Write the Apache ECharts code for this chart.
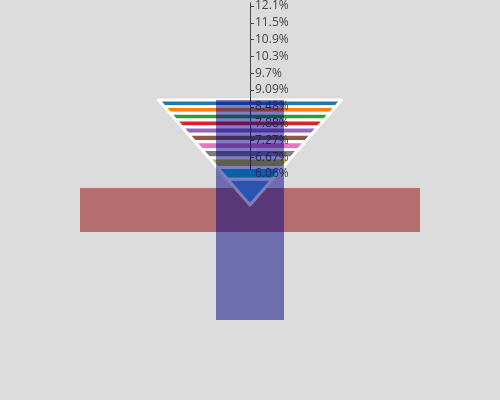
<!DOCTYPE html>
<html><head><meta charset="utf-8">
<script src="https://cdn.jsdelivr.net/npm/echarts@6/dist/echarts.min.js"></script>
<style>html,body{margin:0;padding:0;background:#dcdcdc}#c{width:500px;height:400px}</style>
</head><body><div id="c"></div>
<script>
// funnel slice values (top to bottom)
const sliceValues = [20, 19, 18, 17, 16, 15, 14, 13, 12, 11, 10];
const sliceColors = ['#1f77b4', '#ff7f0e', '#2ca02c', '#d62728', '#9467bd', '#8c564b', '#e377c2', '#7f7f7f', '#bcbd22', '#17becf', '#57a9e2'];
// percent labels shown for each slice
const percentLabels = ['12.1%', '11.5%', '10.9%', '10.3%', '9.7%', '9.09%', '8.48%', '7.88%', '7.27%', '6.67%', '6.06%'];
// overlay rectangles in plot-fraction coordinates
const shapeX0 = [0, 0.4];
const shapeX1 = [1, 0.6];
const shapeY0 = [0.4, 0];
const shapeY1 = [0.6, 1];
const shapeColors = ['rgba(139,0,0,0.5)', 'rgba(0,0,128,0.5)'];

const total = sliceValues.reduce((a, b) => a + b, 0);
const suffix = [];
let acc = 0;
for (let i = sliceValues.length - 1; i >= 0; i--) { acc += sliceValues[i]; suffix[i] = acc; }
suffix[sliceValues.length] = 0;
const funnelData = sliceValues.map((v, i) => ({
  name: percentLabels[i],
  value: Math.sqrt(suffix[i] / total),
  itemStyle: {
    color: sliceColors[i],
    height: ((Math.sqrt(suffix[i]) - Math.sqrt(suffix[i + 1])) / Math.sqrt(total) * 100) + '%'
  }
}));
const minVal = Math.min(...sliceValues), maxVal = Math.max(...sliceValues);

function rectSeries(k, z) {
  return {
    type: 'line', xAxisIndex: 0, yAxisIndex: 0, data: [], silent: true,
    markArea: {
      silent: true, z: z, label: { show: false },
      itemStyle: { color: shapeColors[k], borderWidth: 0 },
      emphasis: { disabled: true },
      data: [[{ coord: [shapeX0[k], shapeY0[k]] }, { coord: [shapeX1[k], shapeY1[k]] }]]
    }
  };
}

const chart = echarts.init(document.getElementById('c'), null, { renderer: 'canvas' });
chart.setOption({
  backgroundColor: '#dcdcdc',
  animation: false,
  grid: [
    { left: 80, top: 100, width: 340, height: 220 },
    { left: 250, top: 4, width: 10, height: 170 },
    { left: 250, top: 3, width: 10, height: 167 }
  ],
  xAxis: [
    { gridIndex: 0, type: 'value', min: 0, max: 1, show: false },
    { gridIndex: 1, type: 'value', min: 0, max: 1, show: false },
    { gridIndex: 2, type: 'value', min: 0, max: 1, show: false }
  ],
  yAxis: [
    { gridIndex: 0, type: 'value', min: 0, max: 1, show: false },
    {
      gridIndex: 1, type: 'value', min: minVal, max: maxVal, interval: 1, position: 'left', z: 5,
      axisLine: { show: false },
      splitLine: { show: false },
      axisTick: { show: true, inside: true, length: 4, lineStyle: { color: '#444' },
        customValues: sliceValues.filter(v => v !== minVal) },
      axisLabel: {
        inside: true,
        color: '#444', fontFamily: 'Open Sans', fontSize: 12, margin: 5,
        formatter: v => percentLabels[sliceValues.indexOf(Math.round(v))] || ''
      }
    },
    {
      gridIndex: 2, type: 'value', min: 0, max: 1, position: 'left', z: 5,
      axisLine: { show: true, lineStyle: { color: '#444', width: 1 } },
      axisTick: { show: false }, axisLabel: { show: false }, splitLine: { show: false }
    }
  ],
  series: [
    rectSeries(0, 1),
    {
      type: 'funnel', z: 2,
      left: 158.5, top: 100, width: 183, height: 105,
      min: 0, max: 1, minSize: '0%', maxSize: '100%',
      sort: 'none', gap: 0,
      label: { show: false }, labelLine: { show: false },
      itemStyle: { borderColor: '#ffffff', borderWidth: 3 },
      emphasis: { disabled: true },
      silent: true,
      data: funnelData
    },
    rectSeries(1, 10)
  ]
});
</script>
</body></html>
